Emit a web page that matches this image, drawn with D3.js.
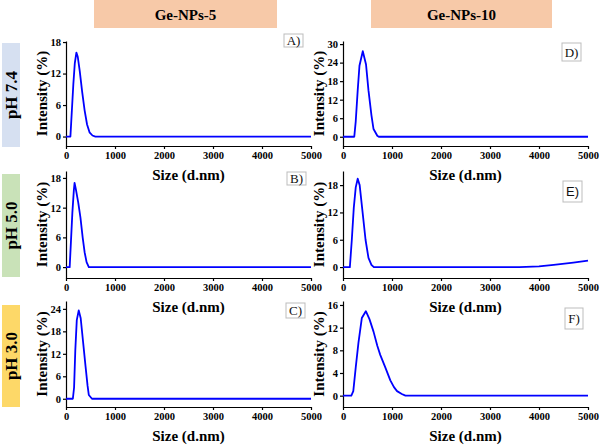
<!DOCTYPE html>
<html><head><meta charset="utf-8">
<script src="https://cdn.jsdelivr.net/npm/d3@7"></script>
<style>body{margin:0;background:#fff}svg{display:block}</style>
</head><body>
<svg id="c" width="600" height="446"></svg>
<script>
// ---------- data ----------
const columnTitles = ["Ge-NPs-5", "Ge-NPs-10"];
const rowTitles = ["pH 7.4", "pH 5.0", "pH 3.0"];
const panelLabels = ["A)", "B)", "C)", "D)", "E)", "F)"];
const xTicks = [0, 1000, 2000, 3000, 4000, 5000];
const xLabel = "Size (d.nm)";
const yLabel = "Intensity (%)";

const sizeA = [0, 90, 120, 150, 180, 212, 240, 280, 330, 380, 430, 480, 540, 600, 5000];
const intensityA = [0, 0, 5, 10, 14, 16, 15.2, 12.5, 8.5, 5, 2.3, 0.8, 0.2, 0, 0];
const sizeB = [0, 75, 100, 130, 160, 175, 200, 250, 295, 340, 380, 420, 466, 5000];
const intensityB = [0, 0, 5, 11, 15.5, 17, 15.8, 13, 10, 6, 3, 1, 0, 0];
const sizeC = [0, 140, 165, 190, 220, 260, 300, 350, 400, 440, 466, 530, 5000];
const intensityC = [0, 0, 3, 13, 21, 23.6, 21.5, 15, 8.5, 3.5, 1, 0, 0];
const sizeD = [0, 230, 260, 300, 336, 404, 470, 520, 580, 623, 700, 730, 5000];
const intensityD = [0, 0, 5, 15, 23, 27.7, 23.4, 15, 7, 2.5, 0.3, 0, 0];
const sizeE = [0, 140, 180, 220, 260, 300, 340, 400, 460, 520, 580, 630, 3600, 4000, 4300, 4700, 5000];
const intensityE = [0, 0, 6, 13, 17.5, 19.4, 18, 12, 6, 2, 0.5, 0, 0, 0.15, 0.5, 1.0, 1.4];
const sizeF = [0, 170, 210, 260, 315, 384, 466, 540, 623, 700, 760, 863, 966, 1040, 1103, 1200, 1274, 5000];
const intensityF = [0, 0, 0.8, 5, 9.3, 13.7, 14.9, 13.5, 11.3, 8.8, 7.2, 5, 2.7, 1.5, 0.8, 0.3, 0, 0];

const yTicksA = [0, 6, 12, 18];
const yTicksB = [0, 6, 12, 18];
const yTicksC = [0, 6, 12, 18, 24];
const yTicksD = [0, 6, 12, 18, 24, 30];
const yTicksE = [0, 6, 12, 18];
const yTicksF = [0, 4, 8, 12, 16];

const yDomainA = [-1.8, 18.2];
const yDomainB = [-2.2, 19.4];
const yDomainC = [-2.2, 26.1];
const yDomainD = [-3, 31];
const yDomainE = [-2.4, 21.1];
const yDomainF = [-2, 16.7];

// ---------- layout ----------
const colX = [[66, 311], [343, 588]];
const rowY = [[41, 146], [171, 278], [301, 407]];
const headerBoxes = [[94, 277], [371, 552]];
const rowBoxes = [[43, 147], [174, 277], [305, 407]];
const rowColors = ["#d6e0f1", "#c9e2b8", "#fdd868"];
const labelBoxes = [[284, 34, 19, 13], [287, 172, 19, 13], [286, 303, 19, 15],
                    [562, 43, 19, 18], [563, 181, 19, 21], [565, 308, 18, 21]];

const panels = [
  {s: sizeA, v: intensityA, t: yTicksA, d: yDomainA, c: 0, r: 0},
  {s: sizeB, v: intensityB, t: yTicksB, d: yDomainB, c: 0, r: 1},
  {s: sizeC, v: intensityC, t: yTicksC, d: yDomainC, c: 0, r: 2},
  {s: sizeD, v: intensityD, t: yTicksD, d: yDomainD, c: 1, r: 0},
  {s: sizeE, v: intensityE, t: yTicksE, d: yDomainE, c: 1, r: 1},
  {s: sizeF, v: intensityF, t: yTicksF, d: yDomainF, c: 1, r: 2},
];

const serif = "'Liberation Serif','Times New Roman',serif";
const svg = d3.select("#c");

// headers
columnTitles.forEach((t, i) => {
  const [x0, x1] = headerBoxes[i];
  svg.append("rect").attr("x", x0).attr("y", 0).attr("width", x1 - x0).attr("height", 28)
    .attr("fill", "#f7c9a8");
  svg.append("text").attr("x", (x0 + x1) / 2).attr("y", 20).attr("text-anchor", "middle")
    .attr("font-family", serif).attr("font-weight", "bold").attr("font-size", 15).text(t);
});

// row labels
rowTitles.forEach((t, i) => {
  const [y0, y1] = rowBoxes[i];
  svg.append("rect").attr("x", 2).attr("y", y0).attr("width", 18).attr("height", y1 - y0)
    .attr("fill", rowColors[i]);
  svg.append("text").attr("transform", `translate(11,${(y0 + y1) / 2}) rotate(-90)`)
    .attr("dy", "0.35em").attr("text-anchor", "middle")
    .attr("font-family", serif).attr("font-weight", "bold").attr("font-size", 17).text(t);
});

panels.forEach((p, i) => {
  const x = d3.scaleLinear().domain([0, 5000]).range(colX[p.c]);
  const y = d3.scaleLinear().domain(p.d).range([rowY[p.r][1], rowY[p.r][0]]);
  const g = svg.append("g");
  const gx = g.append("g").attr("transform", `translate(0,${rowY[p.r][1]})`)
    .call(d3.axisBottom(x).tickValues(xTicks).tickFormat(d3.format("d"))
      .tickSize(3).tickPadding(3).tickSizeOuter(0));
  const gy = g.append("g").attr("transform", `translate(${colX[p.c][0]},0)`)
    .call(d3.axisLeft(y).tickValues(p.t).tickFormat(d3.format("d"))
      .tickSize(3).tickPadding(2).tickSizeOuter(0));
  [gx, gy].forEach(a => {
    a.selectAll("text").attr("font-family", serif).attr("font-weight", "bold")
      .attr("font-size", 10.5).attr("fill", "#000");
    a.selectAll("line,path").attr("stroke", "#000").attr("stroke-width", 1.2);
  });
  const line = d3.line().x((d, k) => x(p.s[k])).y(d => y(d));
  g.append("path").datum(p.v).attr("d", line).attr("fill", "none")
    .attr("stroke", "#0000ff").attr("stroke-width", 1.8).attr("stroke-linejoin", "round");
  // axis titles
  g.append("text").attr("x", (colX[p.c][0] + colX[p.c][1]) / 2).attr("y", rowY[p.r][1] + 34)
    .attr("text-anchor", "middle").attr("font-family", serif).attr("font-weight", "bold")
    .attr("font-size", 15).text(xLabel);
  g.append("text")
    .attr("transform", `translate(${colX[p.c][0] - 24},${(rowY[p.r][0] + rowY[p.r][1]) / 2}) rotate(-90)`)
    .attr("dy", "0.35em").attr("text-anchor", "middle").attr("font-family", serif)
    .attr("font-weight", "bold").attr("font-size", 15).text(yLabel);
  // panel label
  const [bx, by, bw, bh] = labelBoxes[i];
  g.append("rect").attr("x", bx).attr("y", by).attr("width", bw).attr("height", bh)
    .attr("fill", "#fff").attr("stroke", "#bdbdbd").attr("stroke-width", 1);
  g.append("text").attr("x", bx + bw / 2).attr("y", by + bh / 2).attr("dy", "0.36em")
    .attr("text-anchor", "middle")
    .attr("font-family", i === 4 ? "'Liberation Sans',Arial,sans-serif" : serif)
    .attr("font-size", 13).attr("fill", "#111").text(panelLabels[i]);
});
</script>
</body></html>
